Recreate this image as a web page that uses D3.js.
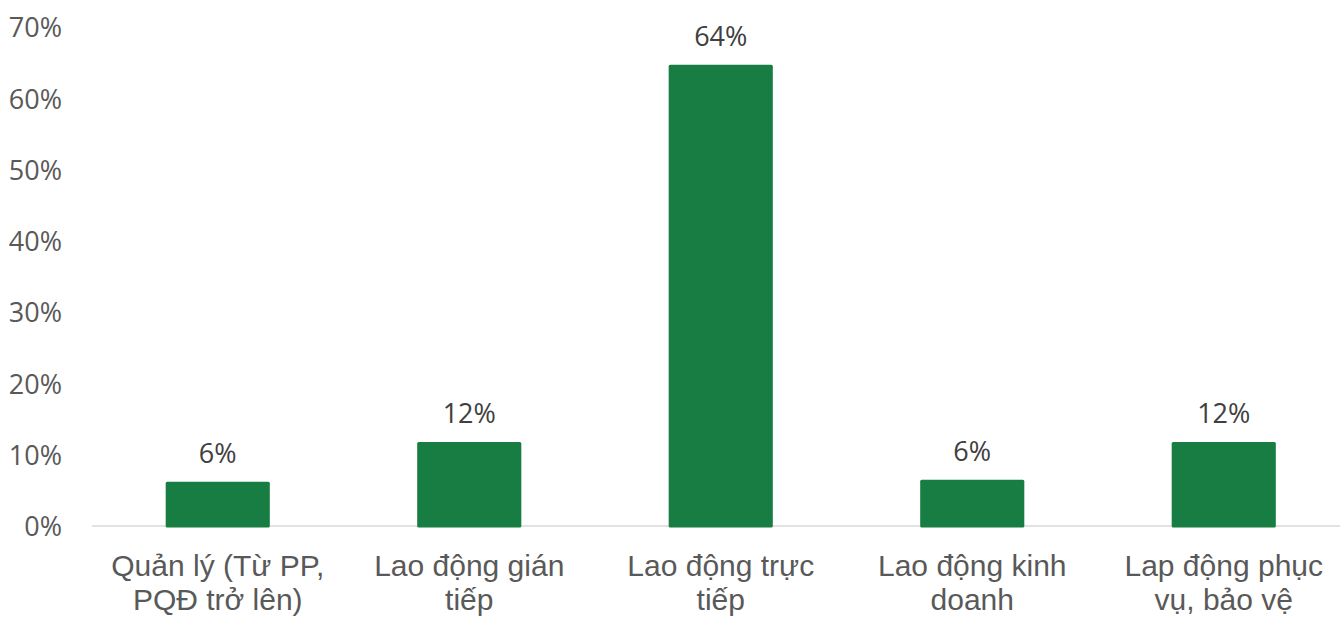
<!DOCTYPE html>
<html><head><meta charset="utf-8">
<script src="https://cdn.jsdelivr.net/npm/d3@7"></script>
<style>body{margin:0;background:#fff}</style>
</head><body><svg id="c" width="1340" height="617"></svg>
<script>
const categories = [["Quản lý (Từ PP,","PQĐ trở lên)"],["Lao động gián","tiếp"],["Lao động trực","tiếp"],["Lao động kinh","doanh"],["Lap động phục","vụ, bảo vệ"]];
const values = [0.062, 0.118, 0.647, 0.065, 0.118];
const valueLabels = ["6%","12%","64%","6%","12%"];
const yTicks = [0,0.1,0.2,0.3,0.4,0.5,0.6,0.7];

const svg = d3.select("#c");
const font = "'Open Sans', 'Segoe UI', sans-serif";
const catFont = "'Liberation Sans', Arial, sans-serif";
const x = d3.scaleBand().domain(d3.range(values.length)).range([92,1349.5]).paddingInner(0.586).paddingOuter(0.293);
const y = d3.scaleLinear().domain([0,0.7]).range([526,27]);

const yAxis = d3.axisLeft(y).tickValues(yTicks).tickFormat(d3.format(".0%")).tickSize(0).tickPadding(0);
const ga = svg.append("g").attr("transform","translate(62,0)").call(yAxis);
ga.select(".domain").remove();
ga.selectAll("text").attr("font-family",font).attr("font-size",27).attr("fill","#595959").attr("dy","0.36em");

svg.append("line").attr("x1",92).attr("x2",1340).attr("y1",y(0)).attr("y2",y(0)).attr("stroke","#D9D9D9").attr("stroke-width",1.5);

svg.selectAll("rect.bar").data(values).join("rect").attr("class","bar")
  .attr("x",(d,i)=>x(i)).attr("width",x.bandwidth())
  .attr("y",d=>y(d)).attr("height",d=>y(0)-y(d)+1.5)
  .attr("rx",1.5).attr("fill","#177D42");

svg.selectAll("text.vl").data(values).join("text").attr("class","vl")
  .attr("x",(d,i)=>x(i)+x.bandwidth()/2).attr("y",d=>y(d)-19)
  .attr("text-anchor","middle").attr("font-family",font).attr("font-size",27).attr("fill","#404040")
  .text((d,i)=>valueLabels[i]);

const cl = svg.selectAll("text.cl").data(categories).join("text").attr("class","cl")
  .attr("text-anchor","middle").attr("font-family",catFont).attr("font-size",30).attr("fill","#595959");
cl.each(function(d,i){
  const t = d3.select(this);
  d.forEach((line,j)=>{
    t.append("tspan").attr("x",x(i)+x.bandwidth()/2).attr("y",576+j*34).text(line);
  });
});
</script></body></html>
